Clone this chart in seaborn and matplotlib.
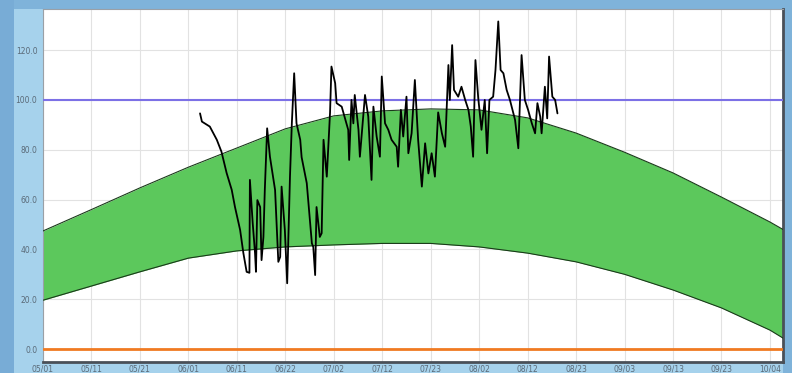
import numpy as np
import pandas as pd
import matplotlib
matplotlib.use("Agg")
import matplotlib.pyplot as plt
import seaborn as sns
from matplotlib.patches import Rectangle

# ---- data ----
tick_labels = ["05/01", "05/11", "05/21", "06/01", "06/11", "06/22", "07/02", "07/12",
               "07/23", "08/02", "08/12", "08/23", "09/03", "09/13", "09/23", "10/04"]
tick_days = [0, 10.4, 20.8, 31.2, 41.6, 52.0, 62.4, 72.8, 83.2, 93.6, 104.0, 114.4,
             124.8, 135.2, 145.6, 156.0]

band_days = [0, 10.4, 20.8, 31.2, 41.6, 52.0, 62.4, 72.8, 83.2, 93.6, 104.0, 114.4,
             124.8, 135.2, 145.6, 156.0, 158.8]
band_upper = [47.4, 56.0, 64.7, 73.0, 80.7, 88.4, 93.6, 95.6, 96.4, 96.0, 92.8, 86.7,
              79.0, 70.7, 61.0, 51.0, 48.0]
band_lower = [19.6, 25.3, 31.0, 36.5, 39.4, 41.0, 41.8, 42.4, 42.4, 41.0, 38.5, 35.0,
              30.0, 23.7, 16.5, 7.6, 4.4]

obs_days = [33.7, 34.1, 35.8, 37.3, 38.3, 39.4, 40.5, 41.2, 42.3, 43.0, 43.7, 44.3, 44.4,
            45.0, 45.5, 45.7, 46.0, 46.6, 46.9, 47.3, 47.6, 48.1, 48.7, 49.8, 50.5, 50.9,
            51.2, 51.9, 52.4, 53.0, 53.4, 53.9, 54.4, 55.2, 55.5, 56.6, 57.7, 58.0, 58.4,
            58.7, 59.4, 59.8, 60.2, 60.9, 61.6, 61.9, 62.7, 63.0, 64.1, 65.5, 65.7, 66.2,
            66.6, 66.9, 67.7, 68.0, 69.1, 69.8, 70.5, 70.9, 71.6, 72.3, 72.7, 73.4, 74.1,
            74.8, 75.9, 76.2, 76.8, 77.3, 78.0, 78.4, 79.1, 79.8, 80.5, 81.3, 82.0, 82.7,
            83.4, 84.1, 84.8, 85.6, 86.3, 87.0, 87.3, 87.8, 88.2, 89.1, 89.8, 90.6, 91.3,
            91.8, 92.3, 92.8, 93.4, 94.1, 94.8, 95.3, 95.8, 96.6, 97.1, 97.7, 98.2, 98.8,
            99.5, 100.2, 101.3, 102.0, 102.7, 103.4, 104.1, 104.9, 105.6, 106.1, 106.7,
            107.0, 107.7, 108.2, 108.6, 109.3, 109.9, 110.4]
obs_vals = [94.6, 91.3, 89.3, 84.0, 79.2, 70.7, 63.9, 57.0, 47.8, 38.5, 31.0, 30.6, 67.9,
            50.6, 38.5, 31.0, 59.8, 57.0, 35.7, 45.0, 63.9, 88.6, 77.2, 63.9, 35.0, 37.0,
            65.2, 47.8, 26.4, 69.2, 90.6, 110.7, 90.6, 84.0, 77.0, 66.6, 42.4, 41.0, 29.7,
            57.0, 45.0, 46.5, 84.0, 69.2, 95.0, 113.4, 106.7, 98.7, 97.3, 88.0, 75.9, 100.0,
            90.6, 102.0, 88.0, 77.2, 102.0, 93.3, 67.9, 97.3, 85.3, 77.2, 109.4, 90.6, 88.0,
            84.0, 81.2, 73.2, 96.0, 85.3, 101.3, 78.6, 86.6, 108.0, 84.0, 65.2, 82.6, 70.5,
            78.6, 69.2, 95.0, 86.6, 81.2, 114.0, 100.0, 122.0, 104.0, 101.3, 105.3, 100.0,
            96.0, 89.3, 77.2, 116.0, 100.7, 88.0, 100.0, 78.6, 100.0, 101.3, 112.0, 131.5,
            112.0, 110.7, 104.0, 100.0, 92.0, 80.6, 118.0, 100.0, 96.0, 90.6, 86.6, 98.7,
            93.3, 86.6, 105.3, 92.6, 117.4, 101.3, 100.0, 94.6]

upper_limit = 100.0
lower_limit = 0.0
y_ticks = [0, 20, 40, 60, 80, 100, 120]

# ---- plot ----
sns.set_style("white")
plt.rcParams['font.family'] = ['DejaVu Sans']

fig = plt.figure(figsize=(7.92, 3.73), dpi=100, facecolor="#7fb3da")
fig.patches.append(Rectangle((14 / 792, 0), 1 - 14 / 792 - 9 / 792, 1 - 9 / 373,
                             transform=fig.transFigure, facecolor="#a6d2ec",
                             edgecolor="none", zorder=-10))
fig.patches.append(Rectangle((0, 0), 14 / 792, 1, transform=fig.transFigure,
                             facecolor="#78acd6", edgecolor="none", zorder=-10))

ax = fig.add_axes([43 / 792, 1 - 362 / 373, (783 - 43) / 792, (362 - 9) / 373])
ax.set_zorder(5)
ax.set_facecolor("white")

band = pd.DataFrame({"day": band_days, "upper": band_upper, "lower": band_lower})
obs = pd.DataFrame({"day": obs_days, "value": obs_vals})

ax.fill_between(band["day"], band["lower"], band["upper"], color="#5cc85c", zorder=2,
                linewidth=0)
sns.lineplot(data=band, x="day", y="upper", ax=ax, color="#1a3a1a", linewidth=0.8,
             zorder=3, sort=True)
sns.lineplot(data=band, x="day", y="lower", ax=ax, color="#1a3a1a", linewidth=0.8,
             zorder=3, sort=True)

ax.axhline(upper_limit, color="#7c70e6", linewidth=1.5, zorder=4)
ax.axhline(lower_limit, color="#f07a22", linewidth=2.0, zorder=4)

sns.lineplot(data=obs, x="day", y="value", ax=ax, color="black", linewidth=1.3,
             zorder=5, sort=False)

ax.set_xlim(0, 158.8)
ax.set_ylim(-5.2, 136.5)
ax.set_xticks(tick_days)
ax.set_xticklabels(tick_labels)
ax.set_yticks(y_ticks)
ax.set_yticklabels([f"{v:.1f}" for v in y_ticks])
ax.grid(True, color="#e2e2e2", linewidth=0.8, zorder=0)
ax.set_axisbelow(True)
ax.tick_params(axis="both", length=0, labelsize=5.5, labelcolor="#5a6a78")
ax.tick_params(axis="y", pad=4)
ax.tick_params(axis="x", pad=1.5)
ax.set_xlabel("")
ax.set_ylabel("")
for side in ["top", "left"]:
    ax.spines[side].set_color("#9aa0a6")
    ax.spines[side].set_linewidth(0.8)
for side in ["bottom", "right"]:
    ax.spines[side].set_color("#4a5058")
    ax.spines[side].set_linewidth(2.0)

fig.savefig("out.png", dpi=100, facecolor=fig.get_facecolor())
